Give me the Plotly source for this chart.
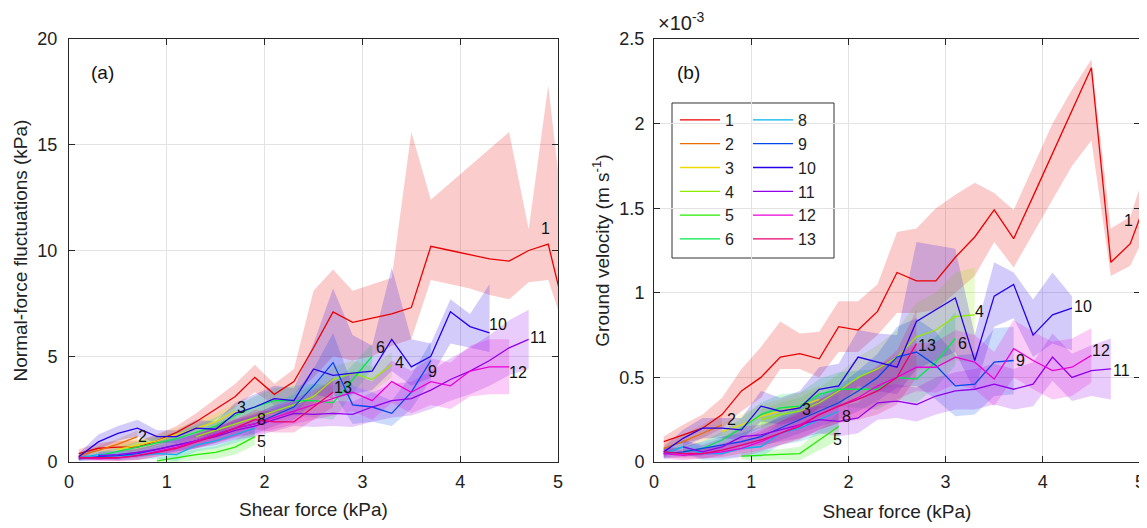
import plotly.graph_objects as go

# ---------------- data ----------------
X_GRID = [0.1, 0.3, 0.5, 0.7, 0.9, 1.1, 1.3, 1.5, 1.7, 1.9, 2.1, 2.3, 2.5, 2.7, 2.9,
          3.1, 3.3, 3.5, 3.7, 3.9, 4.1, 4.3, 4.5, 4.7, 4.9, 5.1]

series_names = ["1", "2", "3", "4", "5", "6", "8", "9", "10", "11", "12", "13"]
series_colors = ["#eb0000", "#eb6c00", "#ebd900", "#91eb00", "#24eb00", "#00eb48",
                 "#00b5eb", "#0048eb", "#2400eb", "#9100eb", "#eb00d9", "#eb006c"]
# first x of each series on the grid
series_start = [0.1, 0.1, 0.5, 1.3, 0.9, 0.3, 0.1, 0.1, 0.1, 0.3, 0.1, 0.1]
series_start_b = [0.1, 0.1, 0.7, 1.1, 0.9, 0.3, 0.1, 0.1, 0.1, 0.3, 0.1, 0.1]

# ----- panel (a): normal-force fluctuations (kPa) -----
a1_mean = [0.4, 0.65, 0.7, 0.7, 1.0, 1.4, 1.9, 2.5, 3.1, 4.0, 3.2, 3.8, 5.4, 7.1, 6.6, 6.8, 7.0, 7.3,
           10.2, 10.0, 9.8, 9.6, 9.5, 10.0, 10.3, 6.5]
a1_lo = [0.2, 0.4, 0.5, 0.5, 0.8, 1.1, 1.5, 2.0, 2.6, 3.3, 2.7, 3.2, 4.0, 5.0, 4.8, 5.0, 5.5, 5.8,
         8.6, 8.4, 8.2, 7.9, 7.7, 8.5, 8.6, 5.8]
a1_hi = [0.6, 0.9, 1.0, 1.0, 1.3, 1.7, 2.3, 3.0, 3.7, 4.6, 3.7, 4.4, 8.1, 9.1, 8.1, 8.4, 8.7, 15.6,
         12.4, 13.2, 14.0, 14.8, 15.6, 11.0, 17.8, 9.8]
a2_mean = [0.3, 0.55, 0.85, 1.2]
a2_err = [0.15, 0.2, 0.25, 0.3]
a3_mean = [0.6, 0.8, 1.0, 1.3, 1.6, 1.9, 2.4]
a3_err = [0.2, 0.25, 0.3, 0.3, 0.35, 0.4, 0.4]
a4_mean = [1.2, 1.5, 1.8, 2.1, 2.4, 2.7, 3.1, 3.9, 4.2, 3.9, 4.6]
a4_err = [0.3, 0.35, 0.4, 0.4, 0.45, 0.5, 0.55, 0.6, 0.6, 0.6, 0.6]
a5_mean = [0.05, 0.2, 0.35, 0.45, 0.7, 1.2]
a5_err = [0.15, 0.2, 0.25, 0.3, 0.35, 0.4]
a6_mean = [0.3, 0.5, 0.7, 0.9, 1.1, 1.4, 1.7, 2.2, 2.6, 2.9, 2.9, 2.9, 2.8, 3.9, 5.0]
a6_err = [0.15, 0.2, 0.25, 0.3, 0.3, 0.35, 0.4, 0.45, 0.5, 0.6, 0.7, 0.8, 0.8, 0.7, 0.6]
a8_mean = [0.2, 0.35, 0.3, 0.3, 0.4, 0.35, 0.8, 1.0, 1.3, 1.6]
a8_err = [0.15, 0.2, 0.2, 0.2, 0.25, 0.3, 0.3, 0.35, 0.4, 0.4]
a9_mean = [0.15, 0.25, 0.3, 0.4, 0.6, 0.8, 1.0, 1.3, 1.6, 1.8, 2.2, 2.6, 3.6, 4.7, 2.7, 2.6, 2.3, 3.3, 4.8]
a9_err = [0.1, 0.15, 0.2, 0.2, 0.25, 0.3, 0.3, 0.35, 0.4, 0.45, 0.5, 0.6, 0.8, 1.4, 0.9, 0.7, 0.6, 0.8, 0.9]
a10_mean = [0.25, 0.95, 1.35, 1.6, 1.2, 1.2, 1.6, 1.55, 2.3, 2.6, 3.0, 2.9, 4.4, 4.1, 4.2, 4.3, 5.8, 4.5,
            5.0, 7.1, 6.4, 6.1]
a10_lo = [0.1, 0.6, 1.0, 1.2, 0.9, 0.9, 1.2, 1.2, 1.8, 2.1, 2.4, 2.3, 3.2, 3.0, 3.2, 3.4, 4.3, 3.6,
          4.0, 5.6, 5.4, 5.2]
a10_hi = [0.4, 1.3, 1.7, 2.0, 1.5, 1.5, 2.0, 1.9, 2.8, 3.2, 3.6, 3.5, 5.6, 8.2, 6.0, 5.5, 9.2, 5.8,
          5.6, 7.7, 7.0, 8.4]
a11_mean = [0.3, 0.35, 0.45, 0.6, 0.8, 1.0, 1.2, 1.5, 1.7, 2.0, 2.3, 2.25, 2.3, 2.25, 2.6, 2.9, 3.0,
            3.4, 3.9, 4.3, 4.8, 5.4, 5.8]
a11_err = [0.15, 0.2, 0.2, 0.25, 0.3, 0.35, 0.4, 0.45, 0.5, 0.55, 0.6, 0.6, 0.6, 0.6, 0.7, 0.8, 0.8,
           0.9, 1.0, 1.1, 1.2, 1.3, 1.4]
a12_mean = [0.2, 0.15, 0.2, 0.3, 0.5, 0.7, 1.0, 1.3, 1.6, 1.8, 2.1, 2.4, 2.7, 3.0, 3.3, 2.9, 3.8, 3.3,
            3.8, 3.6, 4.3, 4.5, 4.5]
a12_err = [0.1, 0.1, 0.15, 0.2, 0.25, 0.3, 0.35, 0.4, 0.45, 0.5, 0.55, 0.6, 0.7, 0.8, 0.9, 0.9, 1.0,
           1.0, 1.1, 1.1, 1.2, 1.3, 1.3]
a13_mean = [0.2, 0.2, 0.2, 0.3, 0.45, 0.65, 0.95, 1.25, 1.6, 2.0, 1.9, 1.9, 2.6, 3.3]
a13_err = [0.1, 0.1, 0.15, 0.2, 0.2, 0.25, 0.3, 0.35, 0.4, 0.45, 0.5, 0.5, 0.6, 0.7]

# ----- panel (b): ground velocity (x 1e-3 m/s) -----
b1_mean = [0.12, 0.16, 0.2, 0.28, 0.42, 0.5, 0.62, 0.64, 0.61, 0.8, 0.78, 0.89, 1.12, 1.07, 1.07,
           1.21, 1.33, 1.49, 1.32, 1.57, 1.82, 2.07, 2.33, 1.18, 1.29, 1.6]
b1_lo = [0.09, 0.11, 0.14, 0.2, 0.3, 0.38, 0.55, 0.55, 0.5, 0.65, 0.65, 0.75, 0.88, 0.88, 0.9,
         1.0, 1.1, 1.3, 1.15, 1.35, 1.55, 1.75, 1.9, 1.1, 1.16, 1.4]
b1_hi = [0.15, 0.22, 0.28, 0.38, 0.55, 0.68, 0.83, 0.76, 0.77, 0.95, 0.95, 1.05, 1.36, 1.38, 1.5,
         1.58, 1.65, 1.59, 1.49, 1.75, 2.0, 2.2, 2.38, 1.38, 1.45, 1.8]
b2_mean = [0.08, 0.12, 0.17, 0.22]
b2_err = [0.03, 0.04, 0.05, 0.06]
b3_mean = [0.18, 0.22, 0.27, 0.3, 0.33, 0.37]
b3_err = [0.05, 0.06, 0.07, 0.07, 0.08, 0.08]
b4_mean = [0.25, 0.28, 0.3, 0.35, 0.42, 0.5, 0.55, 0.62, 0.74, 0.78, 0.86, 0.87]
b4_err = [0.06, 0.07, 0.08, 0.09, 0.1, 0.12, 0.14, 0.16, 0.2, 0.22, 0.26, 0.28]
b5_mean = [0.035, 0.04, 0.045, 0.05, 0.13, 0.21]
b5_err = [0.02, 0.03, 0.03, 0.04, 0.06, 0.08]
b6_mean = [0.06, 0.08, 0.13, 0.2, 0.28, 0.32, 0.33, 0.4, 0.43, 0.43, 0.43, 0.5, 0.49, 0.59, 0.73]
b6_err = [0.03, 0.04, 0.05, 0.06, 0.07, 0.08, 0.08, 0.09, 0.1, 0.11, 0.12, 0.13, 0.14, 0.15, 0.16]
b8_mean = [0.05, 0.09, 0.05, 0.05, 0.08, 0.09, 0.17, 0.2, 0.25, 0.3]
b8_err = [0.03, 0.04, 0.04, 0.04, 0.05, 0.06, 0.07, 0.08, 0.09, 0.1]
b9_mean = [0.05, 0.06, 0.08, 0.1, 0.12, 0.15, 0.2, 0.25, 0.3, 0.35, 0.42, 0.5, 0.62, 0.65, 0.57,
           0.45, 0.46, 0.59, 0.6]
b9_err = [0.03, 0.03, 0.04, 0.05, 0.05, 0.06, 0.07, 0.08, 0.09, 0.1, 0.12, 0.14, 0.18, 0.2, 0.2,
          0.18, 0.18, 0.2, 0.2]
b10_mean = [0.06, 0.14, 0.2, 0.2, 0.19, 0.33, 0.3, 0.32, 0.43, 0.45, 0.62, 0.59, 0.56, 0.83, 0.9,
            0.97, 0.6, 0.98, 1.05, 0.75, 0.87, 0.91]
b10_lo = [0.03, 0.09, 0.14, 0.14, 0.13, 0.24, 0.22, 0.24, 0.32, 0.33, 0.45, 0.42, 0.4, 0.55, 0.6,
          0.65, 0.42, 0.8, 0.85, 0.62, 0.7, 0.66]
b10_hi = [0.09, 0.19, 0.26, 0.26, 0.26, 0.42, 0.38, 0.42, 0.56, 0.58, 0.78, 0.76, 0.75, 1.3, 1.28,
          1.26, 0.75, 1.18, 1.12, 0.96, 1.12, 0.98]
b11_mean = [0.09, 0.06, 0.09, 0.15, 0.16, 0.19, 0.22, 0.25, 0.24, 0.26, 0.35, 0.36, 0.34, 0.39, 0.42,
            0.43, 0.46, 0.43, 0.46, 0.62, 0.5, 0.54, 0.55]
b11_err = [0.04, 0.04, 0.05, 0.06, 0.06, 0.07, 0.08, 0.08, 0.09, 0.09, 0.1, 0.1, 0.1, 0.11, 0.11,
           0.12, 0.12, 0.12, 0.13, 0.14, 0.14, 0.15, 0.18]
b12_mean = [0.05, 0.04, 0.05, 0.06, 0.08, 0.12, 0.17, 0.22, 0.28, 0.33, 0.38, 0.45, 0.5, 0.56, 0.56,
            0.62, 0.59, 0.49, 0.67, 0.6, 0.54, 0.56, 0.63]
b12_err = [0.03, 0.03, 0.03, 0.04, 0.05, 0.06, 0.07, 0.08, 0.09, 0.1, 0.11, 0.12, 0.13, 0.14, 0.15,
           0.16, 0.16, 0.16, 0.17, 0.17, 0.17, 0.17, 0.16]
b13_mean = [0.06, 0.05, 0.05, 0.07, 0.1, 0.13, 0.17, 0.21, 0.28, 0.33, 0.37, 0.42, 0.5, 0.7]
b13_err = [0.03, 0.03, 0.03, 0.04, 0.05, 0.06, 0.07, 0.08, 0.09, 0.1, 0.12, 0.14, 0.16, 0.2]

# text labels next to curve ends: (name, x, y)
labels_a = [("1", 4.87, 11.05), ("2", 0.75, 1.2), ("3", 1.76, 2.6), ("4", 3.38, 4.7),
            ("5", 1.97, 0.95), ("6", 3.18, 5.4), ("8", 1.97, 2.0), ("9", 3.72, 4.3),
            ("10", 4.39, 6.5), ("11", 4.8, 5.9), ("12", 4.59, 4.25), ("13", 2.8, 3.5)]
labels_b = [("1", 4.88, 1.43), ("2", 0.8, 0.25), ("3", 1.57, 0.31), ("4", 3.35, 0.89),
            ("5", 1.89, 0.135), ("6", 3.17, 0.7), ("8", 1.98, 0.27), ("9", 3.77, 0.6),
            ("10", 4.41, 0.92), ("11", 4.81, 0.54), ("12", 4.6, 0.66), ("13", 2.81, 0.69)]


def band(mean, err):
    return [m - e for m, e in zip(mean, err)], [m + e for m, e in zip(mean, err)]


def xs_for(start, n):
    i0 = X_GRID.index(start)
    return X_GRID[i0:i0 + n]


a_means = [a1_mean, a2_mean, a3_mean, a4_mean, a5_mean, a6_mean, a8_mean, a9_mean, a10_mean,
           a11_mean, a12_mean, a13_mean]
a_bands = [(a1_lo, a1_hi), band(a2_mean, a2_err), band(a3_mean, a3_err), band(a4_mean, a4_err),
           band(a5_mean, a5_err), band(a6_mean, a6_err), band(a8_mean, a8_err),
           band(a9_mean, a9_err), (a10_lo, a10_hi), band(a11_mean, a11_err),
           band(a12_mean, a12_err), band(a13_mean, a13_err)]
b_means = [b1_mean, b2_mean, b3_mean, b4_mean, b5_mean, b6_mean, b8_mean, b9_mean, b10_mean,
           b11_mean, b12_mean, b13_mean]
b_bands = [(b1_lo, b1_hi), band(b2_mean, b2_err), band(b3_mean, b3_err), band(b4_mean, b4_err),
           band(b5_mean, b5_err), band(b6_mean, b6_err), band(b8_mean, b8_err),
           band(b9_mean, b9_err), (b10_lo, b10_hi), band(b11_mean, b11_err),
           band(b12_mean, b12_err), band(b13_mean, b13_err)]


def rgba(hexc, a):
    h = hexc.lstrip("#")
    return "rgba(%d,%d,%d,%.2f)" % (int(h[0:2], 16), int(h[2:4], 16), int(h[4:6], 16), a)


FONT = "Liberation Sans, Arial, sans-serif"
fig = go.Figure()

for panel, means, bands, starts, xa, ya in [
        ("a", a_means, a_bands, series_start, "x", "y"),
        ("b", b_means, b_bands, series_start_b, "x2", "y2")]:
    # shaded bands first
    for k, (m, (lo, hi)) in enumerate(zip(means, bands)):
        xs = xs_for(starts[k], len(m))
        fig.add_trace(go.Scatter(
            x=xs + xs[::-1], y=hi + lo[::-1], fill="toself",
            fillcolor=rgba(series_colors[k], 0.2), line=dict(width=0),
            mode="lines", hoverinfo="skip", showlegend=False, xaxis=xa, yaxis=ya))
    # mean lines
    for k, m in enumerate(means):
        xs = xs_for(starts[k], len(m))
        show = panel == "b"
        fig.add_trace(go.Scatter(
            x=xs, y=m, mode="lines", name=series_names[k],
            line=dict(color=series_colors[k], width=1.3),
            showlegend=show, legend=("legend" if k < 6 else "legend2"),
            legendgroup=series_names[k],
            xaxis=xa, yaxis=ya))

annotations = []
for name, x, y in labels_a:
    annotations.append(dict(x=x, y=y, xref="x", yref="y", text=name, showarrow=False,
                            font=dict(size=16, color="#111", family=FONT)))
for name, x, y in labels_b:
    annotations.append(dict(x=x, y=y, xref="x2", yref="y2", text=name, showarrow=False,
                            font=dict(size=16, color="#111", family=FONT)))
annotations += [
    dict(x=0.34, y=18.4, xref="x", yref="y", text="(a)", showarrow=False,
         font=dict(size=19, color="#111", family=FONT)),
    dict(x=0.35, y=2.3, xref="x2", yref="y2", text="(b)", showarrow=False,
         font=dict(size=19, color="#111", family=FONT)),
    dict(x=0.5685, y=0.975, xref="paper", yref="paper", xanchor="left", yanchor="middle",
         text="×10<sup>-3</sup>", showarrow=False, font=dict(size=20, color="#222", family=FONT)),
]

axis_common = dict(showline=True, linecolor="#262626", linewidth=1, mirror="ticks",
                   ticks="inside", ticklen=6, tickcolor="#262626", automargin=False,
                   showgrid=True, gridcolor="#e3e3e3", gridwidth=1, zeroline=False,
                   tickfont=dict(size=18, color="#222", family=FONT))

fig.update_layout(
    width=1139, height=520,
    margin=dict(l=0, r=0, t=0, b=0),
    paper_bgcolor="white", plot_bgcolor="white",
    font=dict(family=FONT, color="#222"),
    xaxis=dict(domain=[0.05356, 0.48288], range=[0, 5], dtick=1, anchor="y",
               ticklabelstandoff=3,
               title=dict(text="Shear force (kPa)", font=dict(size=19), standoff=12),
               **axis_common),
    yaxis=dict(domain=[0.12692, 0.94038], range=[0, 20], dtick=5, anchor="x",
               ticklabelstandoff=7,
               title=dict(text="Normal-force fluctuations (kPa)", font=dict(size=19), standoff=4),
               **axis_common),
    xaxis2=dict(domain=[0.56716, 0.99385], range=[0, 5], dtick=1, anchor="y2",
                ticklabelstandoff=3,
                title=dict(text="Shear force (kPa)", font=dict(size=19), standoff=14),
                **axis_common),
    yaxis2=dict(domain=[0.12692, 0.94038], range=[0, 2.5], dtick=0.5, anchor="x2",
                ticklabelstandoff=5,
                title=dict(text="Ground velocity (m s<sup>-1</sup>)", font=dict(size=19), standoff=4),
                **axis_common),
    legend=dict(x=0.5856, y=0.8173, xanchor="left", yanchor="top", bgcolor="rgba(0,0,0,0)",
                font=dict(size=16, family=FONT, color="#222"), tracegroupgap=0,
                itemwidth=40),
    legend2=dict(x=0.6497, y=0.8173, xanchor="left", yanchor="top", bgcolor="rgba(0,0,0,0)",
                 font=dict(size=16, family=FONT, color="#222"), tracegroupgap=0,
                 itemwidth=40),
    shapes=[dict(type="rect", xref="paper", yref="paper", x0=0.58297, x1=0.72520,
                 y0=0.51923, y1=0.81731, line=dict(color="#333", width=1), fillcolor="white",
                 layer="below")],
    annotations=annotations,
)

fig.write_html("out.html")
